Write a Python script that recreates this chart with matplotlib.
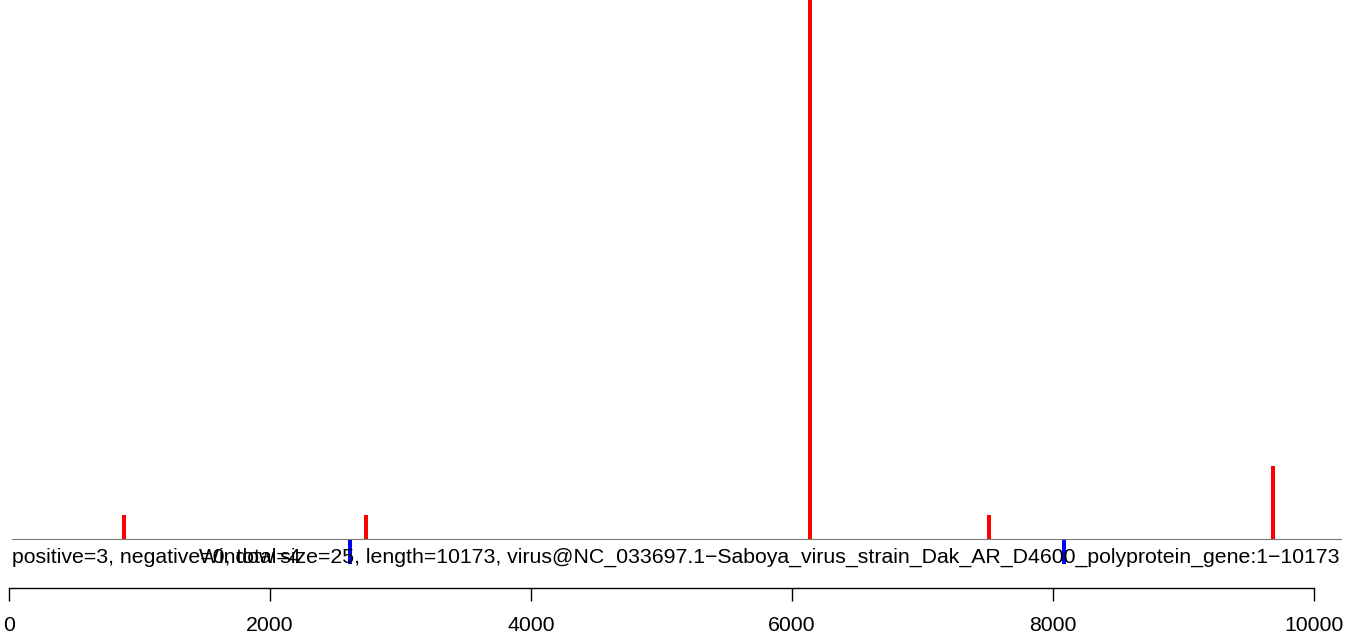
import matplotlib
matplotlib.use("Agg")
import matplotlib.pyplot as plt

plt.rcParams['font.family'] = ['Liberation Sans', 'DejaVu Sans']

# hit positions along the genome and their counts
pos_sites = [881, 2736, 6138, 7510, 9686]
pos_counts = [1, 1, 30, 1, 3]
neg_sites = [2613, 8084]
neg_counts = [-1, -1]

tick_vals = [0, 2000, 4000, 6000, 8000, 10000]
seq_length = 10173

summary_text = "positive=3, negative=0, total=4"
title_text = ("Window size=25, length=10173, "
              "virus@NC_033697.1\u2212Saboya_virus_strain_Dak_AR_D4600_polyprotein_gene:1\u221210173")

fig = plt.figure(figsize=(13.63, 6.39), dpi=100)
ax = fig.add_axes([0, 0, 1, 1])

# pixel mapping: x=0 -> 9px, 10000 -> 1314px; baseline at 539px, ~24.5px per count
px_per_unit = 0.1305
unit_px = 24.5
ax.set_xlim(-9 / px_per_unit, (1363 - 9) / px_per_unit)
ax.set_ylim((539 - 639) / unit_px, 539 / unit_px)

bw = 4 / px_per_unit
ax.bar(pos_sites, pos_counts, width=bw, color='#ff0000', linewidth=0)
ax.bar(neg_sites, neg_counts, width=bw, color='#0000ff', linewidth=0)

# baseline
ax.plot([23, 10207], [0, 0], color='#777777', lw=0.8)

# axis
for s in ['top', 'right', 'left']:
    ax.spines[s].set_visible(False)
ax.spines['bottom'].set_position(('data', (539 - 588) / unit_px))
ax.spines['bottom'].set_bounds(0, 10000)
ax.spines['bottom'].set_linewidth(1.0)
ax.set_xticks(tick_vals)
ax.set_xticklabels([str(t) for t in tick_vals], fontsize=15.3)
ax.tick_params(axis='x', direction='out', length=9.4, width=1.0, pad=11)
ax.set_yticks([])

ax.text(23, (539 - 563) / unit_px, summary_text, fontsize=15.3, ha='left', va='baseline')
ax.text(10192, (539 - 563) / unit_px, title_text, fontsize=15.3, ha='right', va='baseline')

fig.savefig("out.png", dpi=100)
